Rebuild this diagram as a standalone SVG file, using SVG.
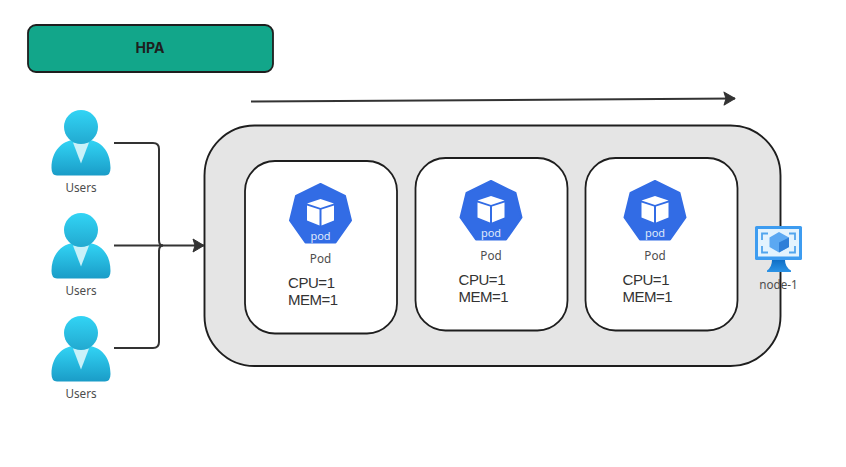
<svg xmlns="http://www.w3.org/2000/svg" width="846" height="467" viewBox="0 0 846 467">
<style>
text{font-family:"Noto Sans","Liberation Sans",sans-serif;text-anchor:middle}
.lbl{font-size:11.700px;fill:#4d4d4d}
.res{font-family:"Liberation Sans",sans-serif;font-size:15px;fill:#333;text-anchor:start}
.pt{font-size:11px;fill:#dfe8fb}
.card{fill:#fff;stroke:#1e1e1e;stroke-width:1.800}
.wire{fill:none;stroke:#333;stroke-width:2}
</style>
<defs>
<linearGradient id="u" x1="0" y1="0" x2="0" y2="1"><stop offset="0" stop-color="#32d4f5"/><stop offset="1" stop-color="#1a9cc7"/></linearGradient>
<linearGradient id="h" x1="0" y1="0" x2="0" y2="1"><stop offset="0" stop-color="#32d4f5"/><stop offset="1" stop-color="#22a9d0"/></linearGradient>
<linearGradient id="st" x1="0" y1="0" x2="0" y2="1"><stop offset="0" stop-color="#0f6fc6"/><stop offset="1" stop-color="#2c93e6"/></linearGradient>
<marker id="arr" markerUnits="userSpaceOnUse" markerWidth="14" markerHeight="16" refX="12" refY="8" orient="auto"><path d="M1 1.500L12 8L1 14.500L3 8Z" fill="#333" stroke="#333" stroke-width="1" stroke-linejoin="round"/></marker>
<g id="user">
<path d="M51.500 168C51.500 150 63 141 73 140L81 145L89 140C100 141 110.500 150 110.500 168Q110.500 175.500 105 175.500H57Q51.500 175.500 51.500 168Z" fill="url(#u)"/>
<path d="M73 142.500H89L81 163.500Z" fill="#c9f1f9"/>
<circle cx="81" cy="127" r="17" fill="url(#h)"/>
</g>
<g id="podicon">
<path d="M0 -31L24.500 -19L30.500 5.500L15 27.500H-15L-30.500 5.500L-24.500 -19Z" fill="#326ce5" stroke="#326ce5" stroke-width="2" stroke-linejoin="round"/>
<path d="M0 -16L13.500 -11.500L0 -7L-13.500 -11.500Z" fill="#fff"/>
<path d="M-13.500 -9.500L-1 -5.500V10.500L-13.500 5.500Z" fill="#fff"/>
<path d="M13.500 -9.500L1 -5.500V10.500L13.500 5.500Z" fill="#fff"/>
<text class="pt" y="25">pod</text>
</g>
</defs>
<g id="hpa"><rect x="28" y="25" width="245" height="47" rx="8" fill="#12a68a" stroke="#1e1e1e" stroke-width="1.800"/><text x="150" y="53" font-size="14px" font-weight="700" fill="#1e1e1e" style="font-family:Inter,'Liberation Sans',sans-serif">HPA</text></g>
<g id="node-1-box"><rect x="204.500" y="125.500" width="576" height="240.500" rx="50" fill="#e5e5e5" stroke="#1e1e1e" stroke-width="1.900"/></g>
<g id="connectors">
<path class="wire" d="M251 101.500L735 98.500" marker-end="url(#arr)"/>
<path class="wire" d="M114 143H153Q159 143 159 149V240Q159 245.500 163 245.500"/>
<path class="wire" d="M114 348H153Q159 348 159 342V251Q159 245.500 163 245.500"/>
<path class="wire" d="M114 245.500H204" marker-end="url(#arr)"/>
</g>
<g id="users-1"><use href="#user"/><text class="lbl" x="81" y="192">Users</text></g>
<g id="users-2"><use href="#user" y="103"/><text class="lbl" x="81" y="295">Users</text></g>
<g id="users-3"><use href="#user" y="206"/><text class="lbl" x="81" y="398">Users</text></g>
<g id="pod-1"><rect class="card" x="245" y="161" width="152" height="172.500" rx="30"/><use href="#podicon" x="320.500" y="215"/><text class="lbl" x="320.500" y="263">Pod</text><text class="res" x="288" y="288" textLength="47">CPU=1</text><text class="res" x="288" y="305" textLength="50">MEM=1</text></g>
<g id="pod-2"><rect class="card" x="415.500" y="158" width="152" height="172.500" rx="30"/><use href="#podicon" x="491" y="212"/><text class="lbl" x="491" y="260">Pod</text><text class="res" x="458.500" y="285" textLength="47">CPU=1</text><text class="res" x="458.500" y="302" textLength="50">MEM=1</text></g>
<g id="pod-3"><rect class="card" x="585.500" y="158" width="152" height="172.500" rx="30"/><use href="#podicon" x="655" y="212"/><text class="lbl" x="655" y="260">Pod</text><text class="res" x="622.500" y="285" textLength="47">CPU=1</text><text class="res" x="622.500" y="302" textLength="50">MEM=1</text></g>
<g id="node-1">
<rect x="755" y="226" width="47" height="34" rx="1.500" fill="#3d9cf0"/>
<rect x="758" y="229" width="41" height="27.500" fill="#e3f3fe"/>
<path d="M772 260H785Q785 267 791 270.500V272H767V270.500Q772 267 772 260Z" fill="url(#st)"/>
<path d="M768 233.500H762V240M789 233.500H795V240M768 252.500H762V246M789 252.500H795V246" fill="none" stroke="#50a5ee" stroke-width="1.800"/>
<path d="M779 232L789 237.500V247L779 252.500L769.500 247V237.500Z" fill="#5ba8f2"/>
<path d="M779 242.500L789 237.500V247L779 252.500Z" fill="#2f7fd8"/>
<text class="lbl" x="778.500" y="289">node-1</text>
</g>
</svg>
